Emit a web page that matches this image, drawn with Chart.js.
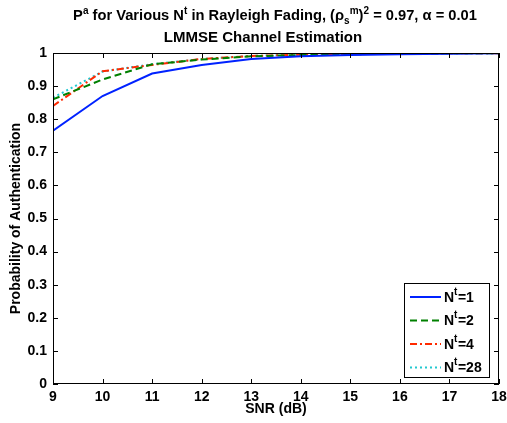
<!DOCTYPE html>
<html>
<head>
<meta charset="utf-8">
<script src="https://cdn.jsdelivr.net/npm/chart.js@4"></script>
<style>
  html, body { margin: 0; padding: 0; background: #fff; }
  #wrap { position: relative; width: 507px; height: 423px; }
  .tl {
    position: absolute; left: 0; width: 600px; text-align: center;
    font: bold 15px "Liberation Sans", Arial, sans-serif; color: #000; line-height: 22px; white-space: nowrap;
  }
  .tl sup, .tl sub { font-size: 10px; line-height: 0; }
  #t1 { top: 4px; left: -25px; font-size: 14.7px; }
  #t2 { top: 26px; left: -37px; }
</style>
</head>
<body>
<div id="wrap">
  <canvas id="chart" width="507" height="423"></canvas>
  <div class="tl" id="t1">P<sup>a</sup> for Various N<sup>t</sup> in Rayleigh Fading, (&rho;<sub>s</sub><sup>m</sup>)<sup>2</sup> = 0.97, &alpha; = 0.01</div>
  <div class="tl" id="t2">LMMSE Channel Estimation</div>
</div>
<script>
// Dades del gràfic
const snr = [9, 10, 11, 12, 13, 14, 15, 16, 17, 18];
const nt1 = [0.765, 0.870, 0.938, 0.964, 0.982, 0.990, 0.994, 0.996, 0.998, 0.999];
const nt2 = [0.860, 0.920, 0.966, 0.980, 0.990, 0.994, 0.996, 0.998, 0.999, 0.999];
const nt4 = [0.840, 0.945, 0.964, 0.982, 0.991, 0.995, 0.997, 0.998, 0.999, 0.999];
const nt28 = [0.865, 0.944, 0.966, 0.982, 0.991, 0.995, 0.997, 0.998, 0.999, 0.999];
const seriesNames = ["1", "2", "4", "28"];
const yTicks = [0, 0.1, 0.2, 0.3, 0.4, 0.5, 0.6, 0.7, 0.8, 0.9, 1];
const xTitle = "SNR (dB)";
const yTitle = "Probability of Authentication";

const font = "Liberation Sans, Arial, sans-serif";

function serie(values, color, dash, i) {
    return {
        label: "N=" + seriesNames[i],
        data: snr.map((x, k) => ({ x: x, y: values[k] })),
        borderColor: color,
        borderWidth: 2,
        borderDash: dash,
        pointRadius: 0,
        fill: false,
        tension: 0
    };
}

// Caixa, marques cap a dins, títols d'eix i llegenda amb superíndex
const boxPlugin = {
    id: "box",
    afterDraw(chart) {
        const c = chart.ctx;
        const a = chart.chartArea;
        const xs = chart.scales.x, ys = chart.scales.y;
        c.save();
        c.strokeStyle = "#000";
        c.lineWidth = 1;
        c.setLineDash([]);
        c.strokeRect(a.left + 0.5, a.top + 0.5, a.right - a.left - 1, a.bottom - a.top - 1);
        c.beginPath();
        snr.forEach(v => {
            const px = Math.round(xs.getPixelForValue(v)) + 0.5;
            c.moveTo(px, a.bottom); c.lineTo(px, a.bottom - 5);
            c.moveTo(px, a.top); c.lineTo(px, a.top + 5);
        });
        yTicks.forEach(v => {
            const py = Math.round(ys.getPixelForValue(v)) + 0.5;
            c.moveTo(a.left, py); c.lineTo(a.left + 5, py);
            c.moveTo(a.right, py); c.lineTo(a.right - 5, py);
        });
        c.stroke();

        // títols dels eixos
        c.fillStyle = "#000";
        c.font = "bold 14px " + font;
        c.textAlign = "center";
        c.textBaseline = "middle";
        c.fillText(xTitle, (a.left + a.right) / 2, 409);
        c.save();
        c.translate(16, (a.top + a.bottom) / 2);
        c.rotate(-Math.PI / 2);
        c.fillText(yTitle, 0, 0);
        c.restore();

        // llegenda
        const lx = 404, ly = 283, lw = 85, lh = 94;
        c.fillStyle = "#fff";
        c.fillRect(lx, ly, lw, lh);
        c.strokeRect(lx + 0.5, ly + 0.5, lw, lh);
        chart.data.datasets.forEach((ds, i) => {
            const y = ly + 14 + i * 23.5;
            c.beginPath();
            c.strokeStyle = ds.borderColor;
            c.lineWidth = 2;
            c.setLineDash(ds.borderDash);
            c.moveTo(410, y); c.lineTo(441, y);
            c.stroke();
            c.setLineDash([]);
            c.fillStyle = "#000";
            c.textBaseline = "middle";
            c.textAlign = "left";
            c.font = "bold 14px " + font;
            c.fillText("N", 444, y + 1);
            const w = c.measureText("N").width;
            c.font = "bold 10px " + font;
            c.fillText("t", 444 + w, y - 5);
            const wt = c.measureText("t").width;
            c.font = "bold 14px " + font;
            c.fillText("=" + seriesNames[i], 444 + w + wt + 0.5, y + 1);
        });
        c.restore();
    }
};

new Chart(document.getElementById("chart"), {
    type: "line",
    data: {
        datasets: [
            serie(nt1, "#0022ff", [], 0),
            serie(nt2, "#008000", [7, 4], 1),
            serie(nt4, "#ff2a00", [7, 3, 2, 3], 2),
            serie(nt28, "#22c8d0", [2, 3], 3)
        ]
    },
    options: {
        responsive: false,
        animation: false,
        layout: { padding: { top: 53, right: 8, left: 0, bottom: 0 } },
        plugins: { legend: { display: false }, tooltip: { enabled: false } },
        scales: {
            x: {
                type: "linear", min: 9, max: 18,
                afterFit: s => { s.height = 39; s.paddingLeft = 0; s.paddingRight = 0; },
                afterBuildTicks: s => { s.ticks = snr.map(v => ({ value: v })); },
                grid: { display: false, tickLength: 0 },
                border: { display: false },
                ticks: { color: "#000", font: { family: font, size: 14, weight: "bold" }, padding: 5, maxRotation: 0 }
            },
            y: {
                type: "linear", min: 0, max: 1,
                afterFit: s => { s.width = 53; s.paddingTop = 0; s.paddingBottom = 0; },
                afterBuildTicks: s => { s.ticks = yTicks.map(v => ({ value: v })); },
                grid: { display: false, tickLength: 0 },
                border: { display: false },
                ticks: { color: "#000", font: { family: font, size: 14, weight: "bold" }, padding: 6, callback: v => String(Math.round(v * 10) / 10) }
            }
        }
    },
    plugins: [boxPlugin]
});
</script>
</body>
</html>
